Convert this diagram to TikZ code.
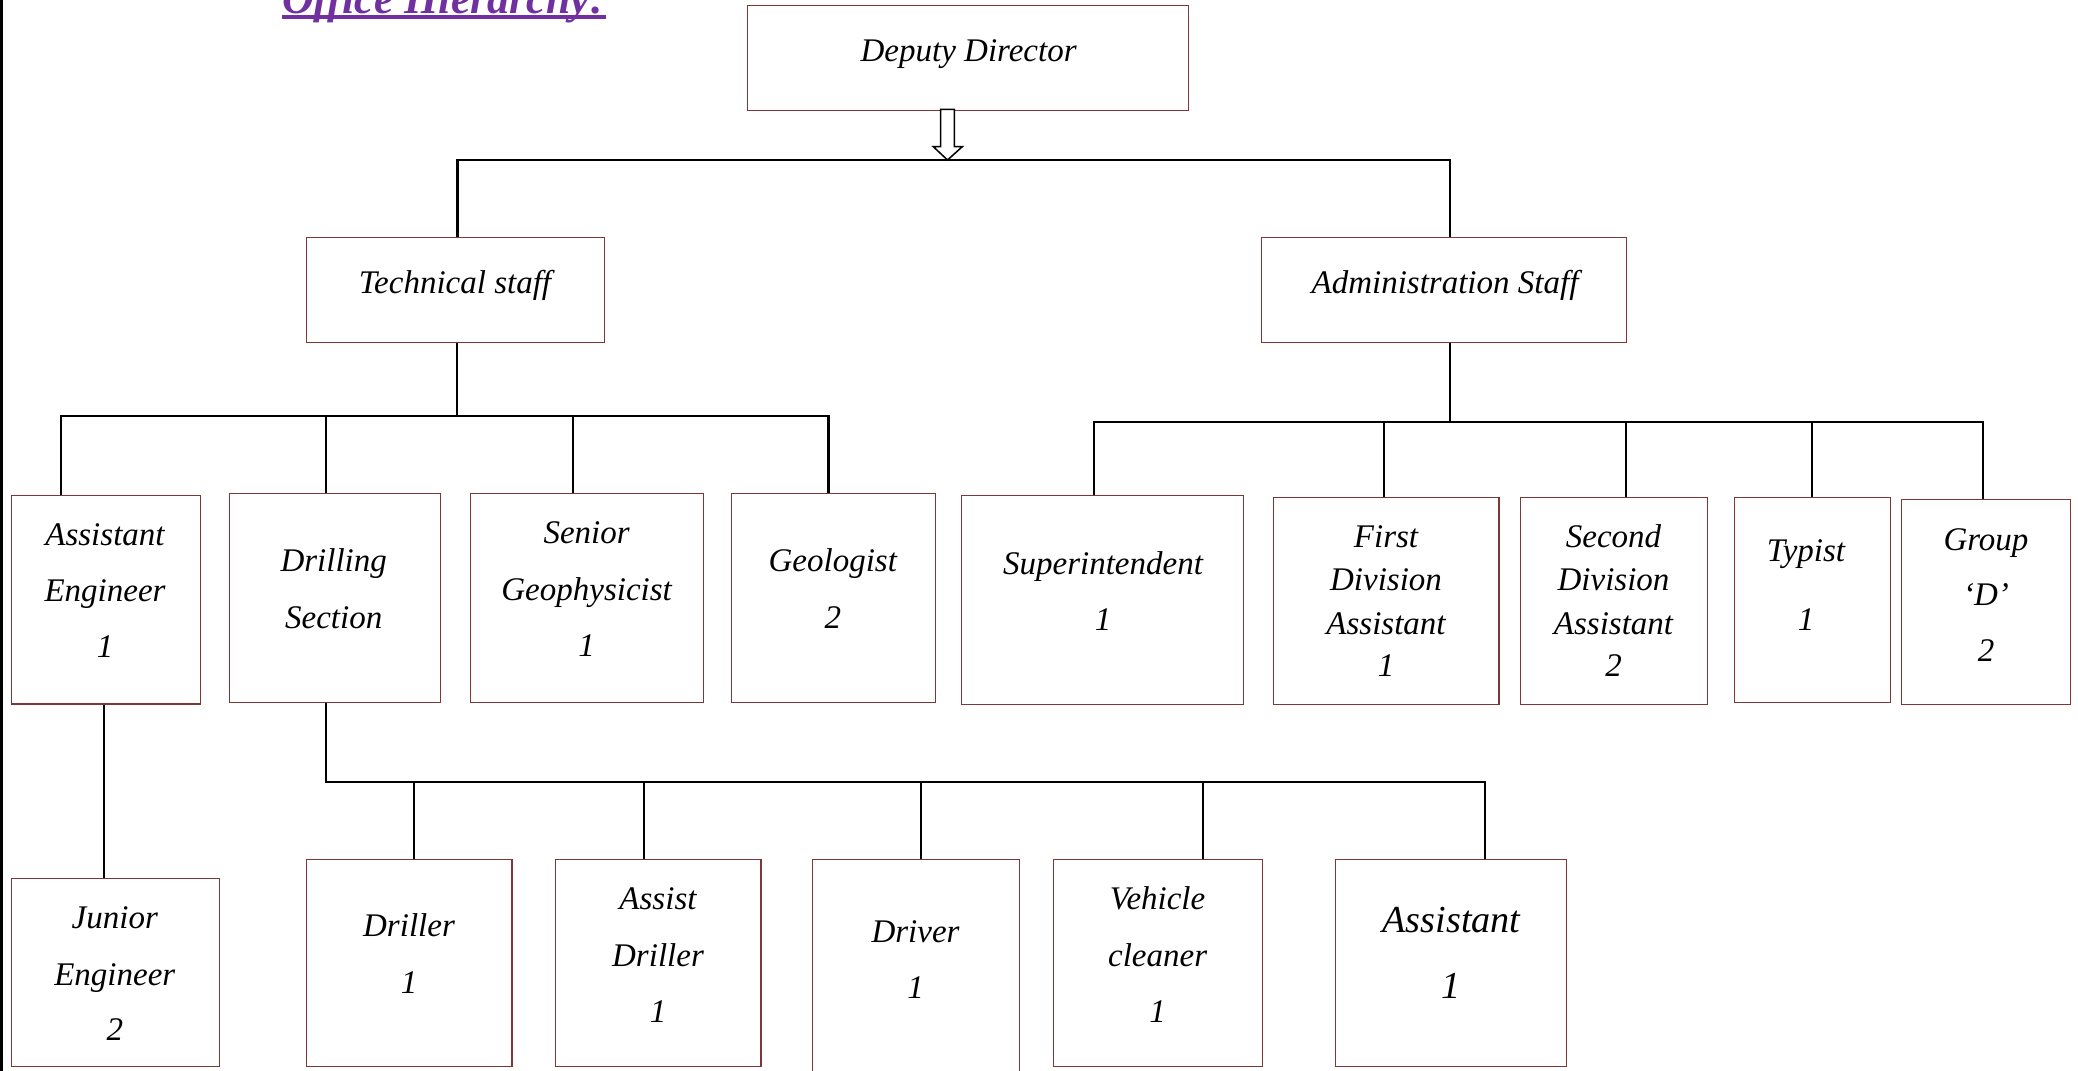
\documentclass[tikz,border=0pt]{standalone}
\usepackage{fontspec}
\setmainfont{Liberation Serif}
\definecolor{boxc}{RGB}{125,55,55}
\definecolor{ttl}{RGB}{112,48,160}
\begin{document}
\begin{tikzpicture}[x=1pt,y=-1pt,
  box/.style={draw=boxc, line width=1.2pt, inner sep=0pt, fill=white},
  lbl/.style={anchor=base, inner sep=0pt, font=\fontsize{33}{40}\selectfont\itshape},
  biglbl/.style={anchor=base, inner sep=0pt, font=\fontsize{38.2}{46}\selectfont\itshape},
  conn/.style={line width=2.2pt, black},
  blockarrow/.style={draw=black, fill=white, line width=1.5pt, line join=miter}]
\useasboundingbox (0,0) rectangle (2078,1071);
\fill[black] (0,0) rectangle (2.5,1071);

% title
\node[anchor=base west, inner sep=0pt, text=ttl, font=\fontsize{44}{50}\selectfont\bfseries\itshape] (title) at (282,13) {Office Hierarchy:};
\coordinate (ul1) at (282,17);
\coordinate (ul2) at (606,17);
\draw[ttl, line width=4pt] (ul1) -- (ul2);

% bus coordinates
\coordinate (b1L) at (457.5,160);
\coordinate (b1R) at (1450,160);
\coordinate (b2M) at (457,415.7);
\coordinate (b2a) at (60.6,415.7);
\coordinate (b2b) at (325.8,415.7);
\coordinate (b2c) at (572.6,415.7);
\coordinate (b2d) at (828.5,415.7);
\coordinate (b3M) at (1450,421.7);
\coordinate (b3a) at (1093.8,421.7);
\coordinate (b3b) at (1384,421.7);
\coordinate (b3c) at (1625.8,421.7);
\coordinate (b3d) at (1812,421.7);
\coordinate (b3e) at (1982.8,421.7);
\coordinate (aej) at (104,790);
\coordinate (b4a) at (326,782);
\coordinate (b4b) at (413.8,782);
\coordinate (b4c) at (643.9,782);
\coordinate (b4d) at (920.7,782);
\coordinate (b4f) at (1202.6,782);
\coordinate (b4e) at (1485,782);

% boxes (positions)
\path
  (968,58)      node[minimum width=440pt, minimum height=104pt, inner sep=0pt] (dd) {}
  (455.5,290)   node[minimum width=297pt, minimum height=104pt, inner sep=0pt] (ts) {}
  (1444,290)    node[minimum width=364pt, minimum height=104pt, inner sep=0pt] (adm) {}
  (105.8,599.9) node[minimum width=188.4pt, minimum height=207.7pt, inner sep=0pt] (ae) {}
  (334.8,598)   node[minimum width=210.4pt, minimum height=208pt, inner sep=0pt] (ds) {}
  (587.3,598)   node[minimum width=232.6pt, minimum height=208pt, inner sep=0pt] (sg) {}
  (833.4,598)   node[minimum width=203.2pt, minimum height=208pt, inner sep=0pt] (ge) {}
  (1102.6,600)  node[minimum width=281.5pt, minimum height=208pt, inner sep=0pt] (su) {}
  (1386.3,600.8) node[minimum width=225pt, minimum height=206.3pt, inner sep=0pt] (fda) {}
  (1613.8,600.8) node[minimum width=186.4pt, minimum height=206.3pt, inner sep=0pt] (sda) {}
  (1812.6,599.9) node[minimum width=156pt, minimum height=204.3pt, inner sep=0pt] (ty) {}
  (1986.3,602)  node[minimum width=168.6pt, minimum height=204pt, inner sep=0pt] (gd) {}
  (115.6,972.2) node[minimum width=207.7pt, minimum height=187.7pt, inner sep=0pt] (je) {}
  (409.4,963)   node[minimum width=204.7pt, minimum height=206pt, inner sep=0pt] (dr) {}
  (658.4,963)   node[minimum width=204.7pt, minimum height=206pt, inner sep=0pt] (ad) {}
  (915.7,975)   node[minimum width=206.6pt, minimum height=230pt, inner sep=0pt] (dv) {}
  (1157.9,963)  node[minimum width=208.7pt, minimum height=206pt, inner sep=0pt] (vc) {}
  (1451.3,963)  node[minimum width=230.6pt, minimum height=206pt, inner sep=0pt] (asst) {};

% connectors
\draw[conn] (ts.north -| b1L) -- (b1L) -- (b1R) -- (adm.north -| b1R);
\draw[conn] (ts.south -| b2M) -- (b2M);
\draw[conn] (ae.north -| b2a) -- (b2a) -- (b2d) -- (ge.north -| b2d);
\draw[conn] (b2b) -- (ds.north -| b2b);
\draw[conn] (b2c) -- (sg.north -| b2c);
\draw[conn] (adm.south -| b3M) -- (b3M);
\draw[conn] (su.north -| b3a) -- (b3a) -- (b3e) -- (gd.north -| b3e);
\draw[conn] (b3b) -- (fda.north -| b3b);
\draw[conn] (b3c) -- (sda.north -| b3c);
\draw[conn] (b3d) -- (ty.north -| b3d);
\draw[conn] (ae.south -| aej) -- (je.north -| aej);
\draw[conn] (ds.south -| b4a) -- (b4a) -- (b4e) -- (asst.north -| b4e);
\draw[conn] (b4b) -- (dr.north -| b4b);
\draw[conn] (b4c) -- (ad.north -| b4c);
\draw[conn] (b4d) -- (dv.north -| b4d);
\draw[conn] (b4f) -- (vc.north -| b4f);

% box outlines
\foreach \n in {dd,ts,adm,ae,ds,sg,ge,su,fda,sda,ty,gd,je,dr,ad,dv,vc,asst}
  \draw[box] (\n.south west) rectangle (\n.north east);

% block arrow from Deputy Director
\coordinate (arr) at (947.5,109.3);
\draw[blockarrow] (arr) ++(-6.8,0) -- ++(13.6,0) -- ++(0,37.4) -- ++(8,0) -- ++(-14.8,13.3) -- ++(-14.2,-13.3) -- ++(7.4,0) -- cycle;

% labels
\node[lbl] (dd-t) at (968.6,61) {Deputy Director};
\node[lbl] (ts-t) at (455,293) {Technical staff};
\node[lbl] (adm-t) at (1445,293) {Administration Staff};

\node[lbl] (ae-1) at (105,545.7) {Assistant};
\node[lbl] (ae-2) at (105,601.7) {Engineer};
\node[lbl] (ae-3) at (105,657.7) {1};

\node[lbl] (ds-1) at (333.7,571.7) {Drilling};
\node[lbl] (ds-2) at (333.7,628.3) {Section};

\node[lbl] (sg-1) at (586.6,543.3) {Senior};
\node[lbl] (sg-2) at (586.6,600) {Geophysicist};
\node[lbl] (sg-3) at (586.6,656) {1};

\node[lbl] (ge-1) at (832.8,571.7) {Geologist};
\node[lbl] (ge-2) at (832.8,628.3) {2};

\node[lbl] (su-1) at (1103,574.3) {Superintendent};
\node[lbl] (su-2) at (1103,630) {1};

\node[lbl] (fda-1) at (1386,547.7) {First};
\node[lbl] (fda-2) at (1386,590.7) {Division};
\node[lbl] (fda-3) at (1386,634) {Assistant};
\node[lbl] (fda-4) at (1386,676) {1};

\node[lbl] (sda-1) at (1613.5,547.7) {Second};
\node[lbl] (sda-2) at (1613.5,590.7) {Division};
\node[lbl] (sda-3) at (1613.5,634) {Assistant};
\node[lbl] (sda-4) at (1613.5,676) {2};

\node[lbl] (ty-1) at (1806,561) {Typist};
\node[lbl] (ty-2) at (1806,630) {1};

\node[lbl] (gd-1) at (1986,550) {Group};
\node[lbl] (gd-2) at (1986,605) {‘D’};
\node[lbl] (gd-3) at (1986,661.7) {2};

\node[lbl] (je-1) at (114.8,928.3) {Junior};
\node[lbl] (je-2) at (114.8,985) {Engineer};
\node[lbl] (je-3) at (114.8,1040.7) {2};

\node[lbl] (dr-1) at (409,936.7) {Driller};
\node[lbl] (dr-2) at (409,993.3) {1};

\node[lbl] (ad-1) at (658,909.3) {Assist};
\node[lbl] (ad-2) at (658,966) {Driller};
\node[lbl] (ad-3) at (658,1022.7) {1};

\node[lbl] (dv-1) at (915.5,942) {Driver};
\node[lbl] (dv-2) at (915.5,998.3) {1};

\node[lbl] (vc-1) at (1157.6,909.3) {Vehicle};
\node[lbl] (vc-2) at (1157.6,966.7) {cleaner};
\node[lbl] (vc-3) at (1157.6,1022.3) {1};

\node[biglbl] (asst-1) at (1451.5,932.7) {Assistant};
\node[biglbl] (asst-2) at (1451.5,998.3) {1};
\end{tikzpicture}
\end{document}
